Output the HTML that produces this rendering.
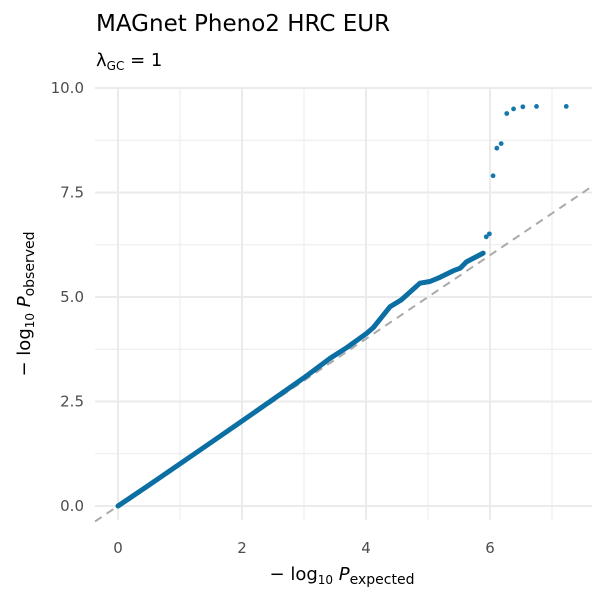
<!DOCTYPE html>
<html><head><meta charset="utf-8"><style>
body{margin:0;background:#fff;font-family:"Liberation Sans","DejaVu Sans",sans-serif}
</style></head><body>
<svg width="600" height="600" xmlns="http://www.w3.org/2000/svg" font-family="DejaVu Sans, Liberation Sans, sans-serif">
<text x="96" y="31" font-size="23" fill="#000">MAGnet Pheno2 HRC EUR</text>
<text x="96" y="66" font-size="18" fill="#000">λ<tspan font-size="12" dy="4">GC</tspan><tspan dy="-4"> = 1</tspan></text>
<g id="grid"></g>
<g id="axes"></g>
<line id="diag" stroke="#aaaaaa" stroke-width="2" stroke-dasharray="8,6"/>
<path id="curve" fill="none" stroke="#0b6fa4" stroke-width="5" stroke-linejoin="round" stroke-linecap="round"/>
<g id="pts"></g>
<text x="342" y="580" font-size="18" text-anchor="middle">− log<tspan font-size="12" dy="4">10</tspan><tspan dy="-4" font-style="italic"> P</tspan><tspan font-size="14" dy="4">expected</tspan></text>
<text transform="translate(30,304) rotate(-90)" font-size="18" text-anchor="middle">− log<tspan font-size="12" dy="4">10</tspan><tspan dy="-4" font-style="italic"> P</tspan><tspan font-size="14" dy="4">observed</tspan></text>
</svg>
<script>
const xTicks=[0,2,4,6];
const yTicks=[0,2.5,5,7.5,10];
const yTickLabels=["0.0","2.5","5.0","7.5","10.0"];
const curveExpected=[0,0.5,1,1.5,2,2.5,3,3.42,3.7,4.01,4.12,4.39,4.57,4.87,5.03,5.19,5.41,5.52,5.62,5.89];
const curveObserved=[0,0.5,1.01,1.52,2.03,2.55,3.07,3.53,3.8,4.13,4.27,4.77,4.93,5.33,5.37,5.47,5.63,5.69,5.84,6.05];
const pointExpected=[5.94,5.99,6.05,6.11,6.18,6.27,6.38,6.53,6.75,7.23];
const pointObserved=[6.44,6.51,7.90,8.56,8.67,9.39,9.50,9.55,9.56,9.56];
const X=v=>118+v*62, Y=v=>506-v*41.8;
const L=95,R=592,T=88,B=520;
const NS="http://www.w3.org/2000/svg";
const grid=document.getElementById('grid'), axes=document.getElementById('axes');
function ln(p,x1,y1,x2,y2,w){const l=document.createElementNS(NS,'line');l.setAttribute('x1',x1);l.setAttribute('y1',y1);l.setAttribute('x2',x2);l.setAttribute('y2',y2);l.setAttribute('stroke','#ebebeb');l.setAttribute('stroke-width',w);p.appendChild(l);return l;}
for(let v=1;v<=7;v+=2){const g=ln(grid,X(v),T,X(v),B,1);}
for(let v=1.25;v<10;v+=2.5){const g=ln(grid,L,Y(v),R,Y(v),1);}
xTicks.forEach(v=>{const g=ln(grid,X(v),T,X(v),B,2);
const t=document.createElementNS(NS,'text');t.setAttribute('x',X(v));t.setAttribute('y',553);t.setAttribute('font-size','15');t.setAttribute('fill','#4d4d4d');t.setAttribute('text-anchor','middle');t.textContent=v;


axes.appendChild(t);});
yTicks.forEach((v,i)=>{const g=ln(grid,L,Y(v),R,Y(v),2);
const t=document.createElementNS(NS,'text');t.setAttribute('x',84);t.setAttribute('y',Y(v)+5);t.setAttribute('font-size','15');t.setAttribute('fill','#4d4d4d');t.setAttribute('text-anchor','end');t.textContent=yTickLabels[i];


axes.appendChild(t);});
const d=document.getElementById('diag');
const x0=(L-118)/62;d.setAttribute('x1',L);d.setAttribute('y1',Y(x0));
const x1=(R-118)/62;d.setAttribute('x2',R);d.setAttribute('y2',Y(x1));
document.getElementById('curve').setAttribute('d',curveExpected.map((e,i)=>(i?'L':'M')+X(e).toFixed(1)+','+Y(curveObserved[i]).toFixed(1)).join(''));
const pts=document.getElementById('pts');
pointExpected.forEach((e,i)=>{const c=document.createElementNS(NS,'circle');c.setAttribute('cx',X(e));c.setAttribute('cy',Y(pointObserved[i]));c.setAttribute('r',2.4);c.setAttribute('fill','#1478ac');


pts.appendChild(c);});
</script>
</body></html>
